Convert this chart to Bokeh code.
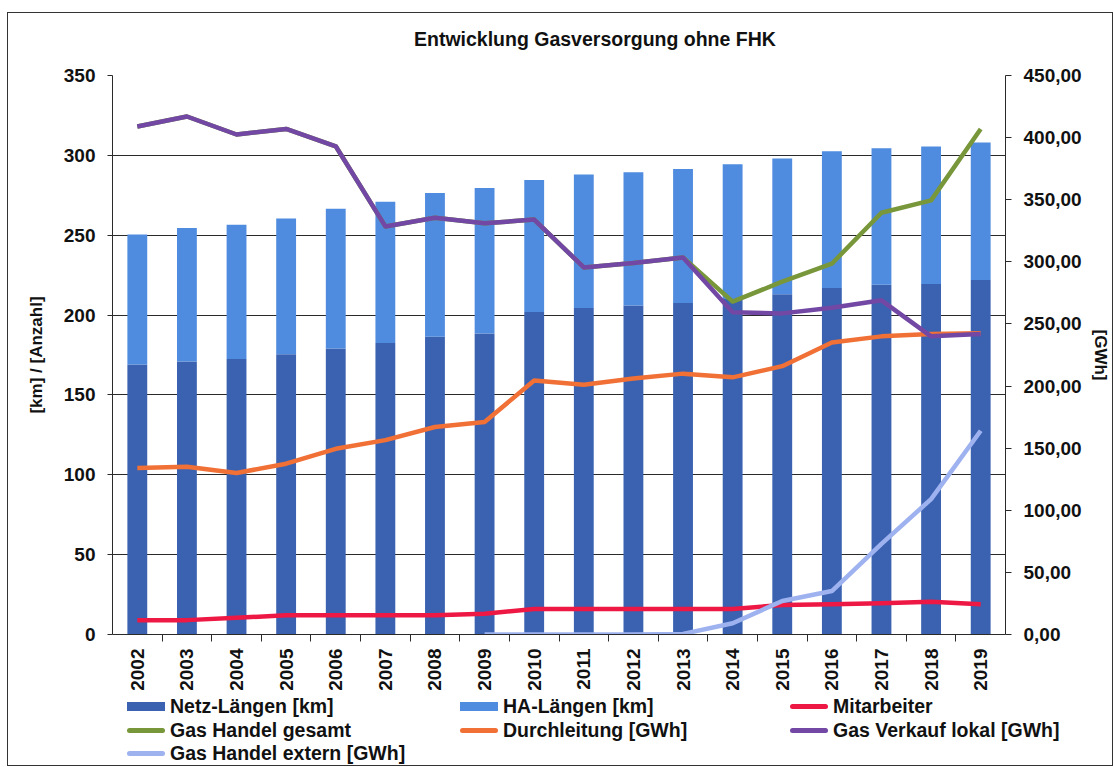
import math
from bokeh.plotting import figure
from bokeh.layouts import column
from bokeh.models import (Range1d, FactorRange, LinearAxis, CategoricalAxis, FixedTicker,
                          CustomJSTickFormatter, ColumnDataSource, Div)
from bokeh.embed import file_html
from bokeh.resources import INLINE

nan = float("nan")

years = ["2002", "2003", "2004", "2005", "2006", "2007", "2008", "2009", "2010",
         "2011", "2012", "2013", "2014", "2015", "2016", "2017", "2018", "2019"]
netz_laengen = [169, 171, 172.5, 175.5, 179, 182.5, 186.5, 188.5, 202,
                204.5, 206, 207.5, 210, 213, 217, 219, 219.5, 222]
ha_laengen = [81.5, 83.5, 84, 85, 87.5, 88.5, 90, 91, 82.5,
              83.5, 83.5, 84, 84.5, 85, 85.5, 85.5, 86, 86]
mitarbeiter = [9, 9, 10.5, 12, 12, 12, 12, 13, 16,
               16, 16, 16, 16, 18.5, 19, 19.5, 20.5, 19]
gas_handel_gesamt = [409, 417, 402.5, 407, 393, 328.5, 335.5, 331, 334,
                     295.5, 299, 303.5, 268, 284, 298.5, 339.5, 349.5, 407]
durchleitung = [134, 135, 130, 137.5, 149.5, 156.5, 167, 171, 204.5,
                201, 206, 210, 207, 216, 235, 240, 242, 242.5]
gas_verkauf_lokal = [409, 417, 402.5, 407, 393, 328.5, 335.5, 331, 334,
                     295.5, 299, 303.5, 259.5, 258.5, 263, 269, 240, 242]
gas_handel_extern = [nan, nan, nan, nan, nan, nan, nan, 0, 0,
                     0, 0, 0.5, 9, 27, 35, 73, 109, 164]

left_ticks = [0, 50, 100, 150, 200, 250, 300, 350]
right_ticks = [0, 50, 100, 150, 200, 250, 300, 350, 400, 450]

series_labels = ["Netz-Längen [km]", "HA-Längen [km]", "Mitarbeiter", "Gas Handel gesamt",
                 "Durchleitung [GWh]", "Gas Verkauf lokal [GWh]", "Gas Handel extern [GWh]"]
series_kinds = ["bar", "bar", "line", "line", "line", "line", "line"]

TITLE = "Entwicklung Gasversorgung ohne FHK"
FONT = "Liberation Sans"
AX = "#2a2a2a"
TXT = "#111111"
C_NETZ, C_HA = "#3B62B0", "#4F8BDE"
C_MIT, C_GES, C_DUR, C_LOK, C_EXT = "#EE1845", "#78973A", "#F07036", "#7248A4", "#9EB2F0"
series_colors = [C_NETZ, C_HA, C_MIT, C_GES, C_DUR, C_LOK, C_EXT]
LW = 4.5
W = 1104

source = ColumnDataSource(dict(
    year=years, netz=netz_laengen, ha=ha_laengen, mit=mitarbeiter,
    ges=gas_handel_gesamt, durch=durchleitung, lokal=gas_verkauf_lokal,
    ext=gas_handel_extern))

# ---------------- title ----------------
title_div = Div(
    text=('<div style="padding-left:406px;padding-top:13px;font-family:\'Liberation Sans\';'
          'font-weight:bold;font-size:19.5px;color:#111111;white-space:nowrap;">%s</div>' % TITLE),
    width=W, height=37, margin=0)

# ---------------- main chart ----------------
p = figure(width=W, height=645,
           x_range=FactorRange(factors=years, range_padding=0),
           y_range=Range1d(0, 350),
           output_backend="svg", toolbar_location=None,
           x_axis_location=None, y_axis_location="left",
           min_border_left=104, min_border_right=106,
           min_border_top=25, min_border_bottom=61)
p.outline_line_color = None
p.background_fill_color = "white"
p.border_fill_color = "white"
p.margin = 0

p.extra_y_ranges = {"gwh": Range1d(0, 450)}
# boundary range: one factor per category boundary, centred on the boundaries
boundaries = ["b%d" % i for i in range(len(years) + 1)]
p.extra_x_ranges = {"bnd": FactorRange(factors=boundaries, range_padding=-0.5,
                                       range_padding_units="absolute")}

p.ygrid.ticker = FixedTicker(ticks=left_ticks)
p.ygrid.grid_line_color = AX
p.ygrid.grid_line_width = 1.2
p.xgrid.grid_line_color = None

ya = p.yaxis[0]
ya.ticker = FixedTicker(ticks=left_ticks)
ya.axis_label = "[km] / [Anzahl]"
ya.axis_label_text_font = FONT
ya.axis_label_text_font_style = "bold"
ya.axis_label_text_font_size = "17px"
ya.axis_label_text_color = TXT
ya.axis_label_standoff = 15
ya.major_label_text_font = FONT
ya.major_label_text_font_style = "bold"
ya.major_label_text_font_size = "19px"
ya.major_label_text_color = TXT
ya.major_label_standoff = 12
ya.major_tick_in = 0
ya.major_tick_out = 5
ya.minor_tick_line_color = None
ya.axis_line_color = AX
ya.major_tick_line_color = AX

ra = LinearAxis(y_range_name="gwh", ticker=FixedTicker(ticks=right_ticks),
                formatter=CustomJSTickFormatter(code="return tick.toFixed(2).replace('.', ',');"),
                axis_label="[GWh]")
ra.axis_label_text_font = FONT
ra.axis_label_text_font_style = "bold"
ra.axis_label_text_font_size = "17px"
ra.axis_label_text_color = TXT
ra.axis_label_standoff = 6
ra.major_label_text_font = FONT
ra.major_label_text_font_style = "bold"
ra.major_label_text_font_size = "19px"
ra.major_label_text_color = TXT
ra.major_label_standoff = 12
ra.major_tick_in = 0
ra.major_tick_out = 6
ra.minor_tick_line_color = None
ra.axis_line_color = AX
ra.major_tick_line_color = AX
p.add_layout(ra, "right")

ta = CategoricalAxis(x_range_name="bnd")
ta.major_label_text_font_size = "0px"
ta.major_label_text_alpha = 0
ta.major_label_standoff = 0
ta.major_tick_in = 0
ta.major_tick_out = 7
ta.axis_line_color = AX
ta.major_tick_line_color = AX
p.add_layout(ta, "below")

ca = CategoricalAxis()
ca.axis_line_color = None
ca.major_tick_line_color = None
ca.major_tick_in = 0
ca.major_tick_out = 0
ca.major_label_orientation = math.pi / 2
ca.major_label_standoff = 7
ca.major_label_text_font = FONT
ca.major_label_text_font_style = "bold"
ca.major_label_text_font_size = "19px"
ca.major_label_text_color = TXT
p.add_layout(ca, "below")

p.vbar_stack(["netz", "ha"], x="year", width=0.4, source=source,
             color=[C_NETZ, C_HA], line_color=None)
p.line("year", "mit", source=source, line_color=C_MIT, line_width=LW, line_join="round")
p.line("year", "ges", source=source, line_color=C_GES, line_width=LW, line_join="round",
       y_range_name="gwh")
p.line("year", "durch", source=source, line_color=C_DUR, line_width=LW, line_join="round",
       y_range_name="gwh")
p.line("year", "lokal", source=source, line_color=C_LOK, line_width=LW, line_join="round",
       y_range_name="gwh")
p.line("year", "ext", source=source, line_color=C_EXT, line_width=LW, line_join="round",
       y_range_name="gwh")

# ---------------- legend strip (HTML, 3 columns, row-major like the original) ----------------
col_x = [119, 452, 782]
row_y = [11, 35, 58]
parts = []
for i, (lab, kind, col) in enumerate(zip(series_labels, series_kinds, series_colors)):
    x = col_x[i % 3]
    yc = row_y[i // 3]
    if kind == "bar":
        sw = ('<div style="position:absolute;left:%dpx;top:%.1fpx;width:38px;height:9px;'
              'background:%s;"></div>' % (x, yc - 4.5, col))
    else:
        sw = ('<div style="position:absolute;left:%dpx;top:%.1fpx;width:38px;height:5px;'
              'border-radius:2.5px;background:%s;"></div>' % (x, yc - 2.5, col))
    tx = ('<div style="position:absolute;left:%dpx;top:%.1fpx;height:20px;line-height:20px;'
          'font-family:\'Liberation Sans\';font-weight:bold;font-size:19.5px;color:#111111;'
          'white-space:nowrap;">%s</div>' % (x + 43, yc - 10, lab))
    parts.append(sw + tx)
legend_div = Div(
    text=('<div style="position:relative;width:%dpx;height:70px;overflow:hidden;">%s</div>'
          % (W, "".join(parts))),
    width=W, height=70, margin=0)

layout = column(title_div, p, legend_div, spacing=0,
                styles={"border": "1px solid #333333", "margin-left": "7px",
                        "margin-top": "12px", "background-color": "white"})

with open("out.html", "w", encoding="utf-8") as f:
    f.write(file_html(layout, INLINE, title=TITLE))
